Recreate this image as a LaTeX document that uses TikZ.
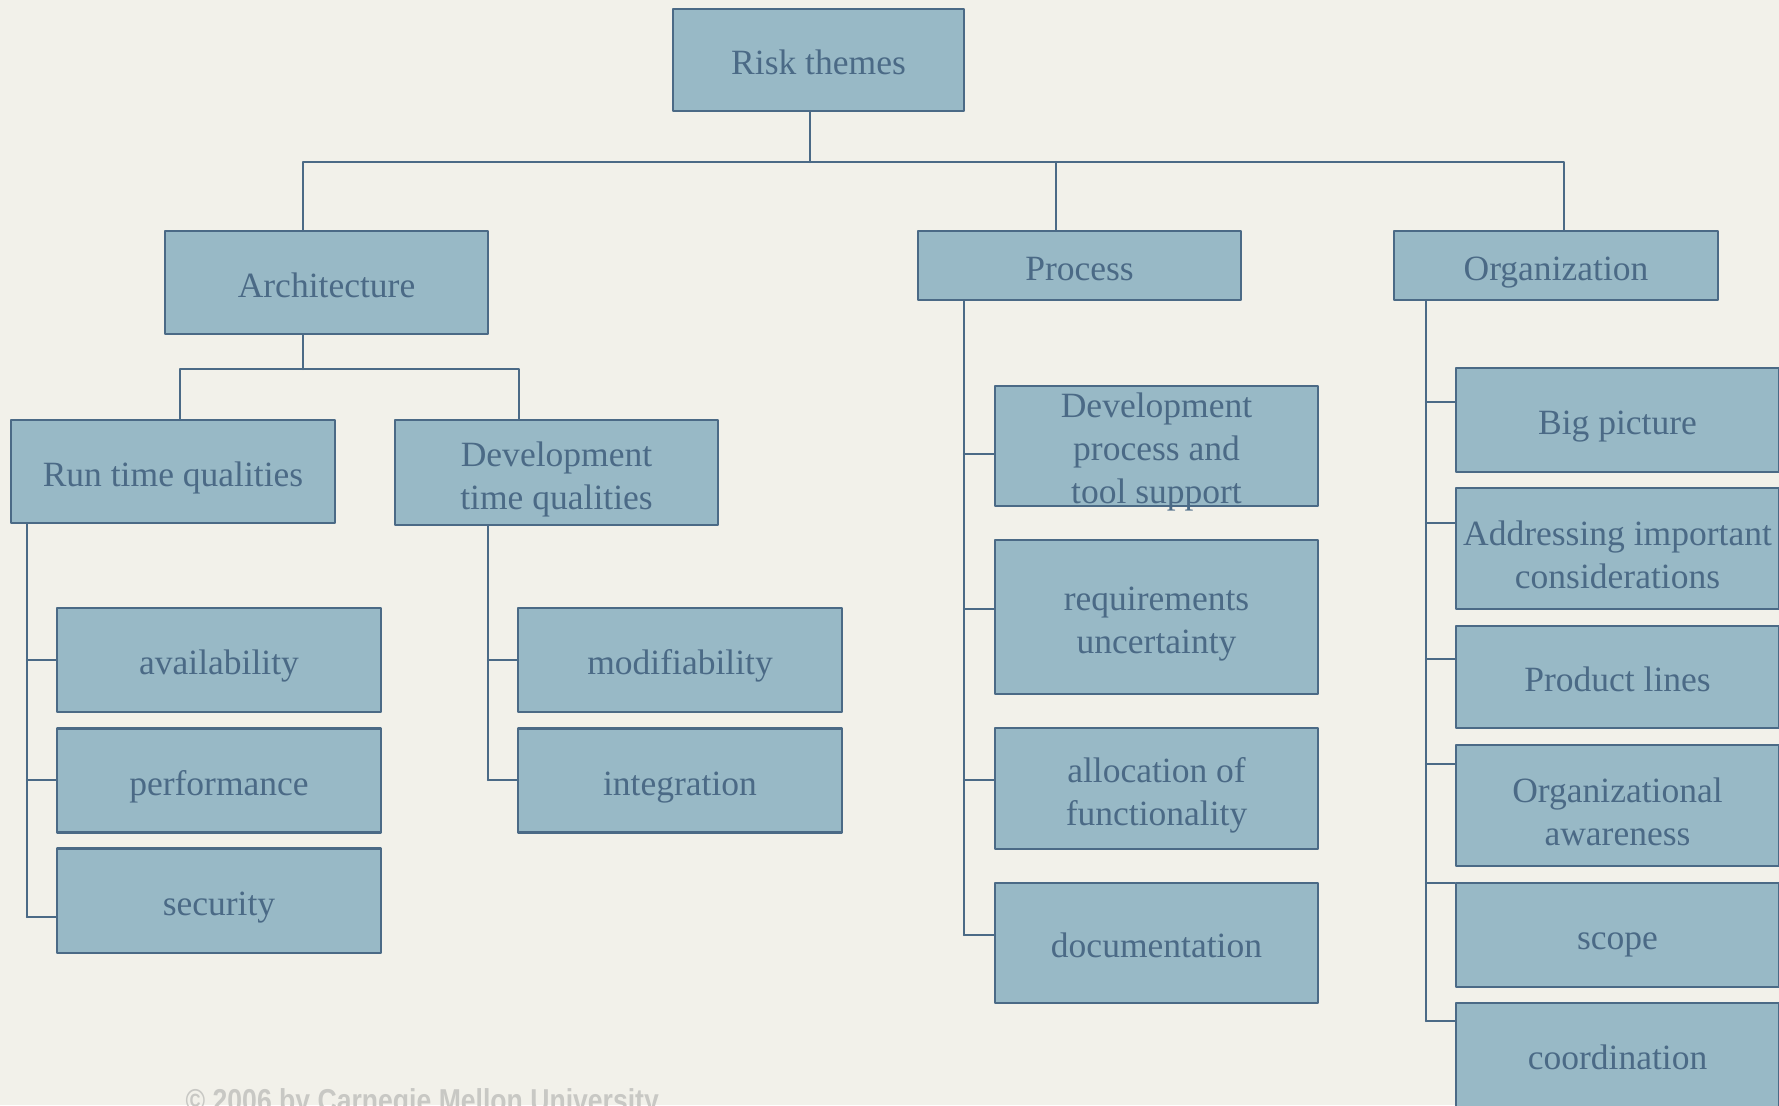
\documentclass[tikz,border=0pt]{standalone}
\usepackage{fontspec}
\setmainfont{Liberation Serif}
\newfontfamily\notefont{Liberation Sans}
\definecolor{bgcream}{HTML}{F2F1EA}
\definecolor{boxfill}{HTML}{98B9C6}
\definecolor{boxline}{HTML}{4B6A86}
\definecolor{notegray}{HTML}{C8C8C4}
\newcommand{\boxstrut}{\rule[-2.2pt]{0pt}{12.9pt}}

\begin{document}
\begin{tikzpicture}[line cap=round, line join=round, x=0.01cm, y=-0.01cm,
    boxtext/.style={text=boxline, inner sep=0pt, align=center, font=\fontsize{10.1}{12.2}\selectfont},
    theme/.style={boxtext, draw=boxline, fill=boxfill, line width=0.6pt,
      minimum width=3.23cm, minimum height=1.04cm,
      execute at begin node=\boxstrut, execute at end node=\boxstrut},
    link/.style={draw=boxline, line width=0.6pt}]
                \useasboundingbox (0,0) rectangle (1779,1105);
                \clip (0,0) rectangle (1779,1105);
                \fill[bgcream] (0,0) rectangle (1779,1105);
                % top levels
                \node[theme, minimum width=2.91cm, minimum height=1.02cm] (risk) at (818.5,60) {Risk themes};
                \node[theme, minimum height=1.03cm] (arch) at (326.5,282.5) {Architecture};
                \node[theme, minimum height=0.69cm] (proc) at (1079.5,265.5) {Process};
                \node[theme, minimum height=0.69cm] (org) at (1556,265.5) {Organization};
                \node[theme, minimum height=1.03cm] (runtime) at (173,471.5) {Run time qualities};
                \node[theme, minimum height=1.05cm] (devtime) at (556.5,472.5) {};
                % leaves
                \node[theme] (avail) at (219,660) {availability};
                \node[theme] (perf) at (219,780.5) {performance};
                \node[theme] (sec) at (219,900.5) {security};
                \node[theme] (modif) at (680,660) {modifiability};
                \node[theme] (integ) at (680,780.5) {integration};
                \node[theme, minimum height=1.20cm] (devproc) at (1156.5,446) {};
                \node[theme, minimum height=1.54cm] (requnc) at (1156.5,617) {};
                \node[theme, minimum height=1.21cm] (alloc) at (1156.5,788.5) {};
                \node[theme, minimum height=1.20cm] (docu) at (1156.5,943) {documentation};
                \node[theme] (bigpic) at (1617.5,420) {Big picture};
                \node[theme, minimum height=1.21cm] (addr) at (1617.5,548.5) {};
                \node[theme, minimum height=1.02cm] (prodl) at (1617.5,677) {Product lines};
                \node[theme, minimum height=1.21cm] (orgaw) at (1617.5,805.5) {};
                \node[theme] (scope) at (1617.5,935) {scope};
                \node[theme] (coord) at (1617.5,1055) {coordination};
                % texts of the boxes with more than one line
                \node[boxtext] (devtimetext) at ([yshift=-1.9pt]devtime.center) {Development\\time qualities};
                \node[boxtext] (devproctext) at ([yshift=-1.6pt]devproc.center) {Development\\process and\\tool support};
                \node[boxtext] (requnctext) at ([yshift=-1.9pt]requnc.center) {requirements\\uncertainty};
                \node[boxtext] (alloctext) at ([yshift=-1.9pt]alloc.center) {allocation of\\functionality};
                \node[boxtext] (addrtext) at ([yshift=-1.9pt]addr.center) {Addressing important\\considerations};
                \node[boxtext] (orgawtext) at ([yshift=-1.9pt]orgaw.center) {Organizational\\awareness};
                % tree lines
                \coordinate (tee) at (810,162);
                \coordinate (busA) at (303,162);
                \coordinate (busP) at (1056,162);
                \coordinate (busO) at (1564,162);
                \draw[link] (risk.south -| tee) -- (tee);
                \draw[link] (arch.north -| busA) -- (busA) -- (busO) -- (org.north -| busO);
                \draw[link] (busP) -- (proc.north -| busP);
                \coordinate (subA) at (303,369);
                \coordinate (subL) at (180,369);
                \coordinate (subR) at (519,369);
                \draw[link] (arch.south -| subA) -- (subA);
                \draw[link] (runtime.north -| subL) -- (subL) -- (subR) -- (devtime.north -| subR);
                \coordinate (trunkR) at (27,917);
                \coordinate (trunkD) at (488,780);
                \coordinate (trunkP) at (964,935);
                \coordinate (trunkO) at (1426,1021);
                \draw[link] (runtime.south -| trunkR) -- (trunkR);
                \draw[link] (devtime.south -| trunkD) -- (trunkD);
                \draw[link] (proc.south -| trunkP) -- (trunkP);
                \draw[link] (org.south -| trunkO) -- (trunkO);
                \foreach \n/\y in {avail/660, perf/780, sec/917}
                    \draw[link] (trunkR |- 0,\y) -- (\n.west |- 0,\y);
                \foreach \n/\y in {modif/660, integ/780}
                    \draw[link] (trunkD |- 0,\y) -- (\n.west |- 0,\y);
                \foreach \n/\y in {devproc/454, requnc/609, alloc/780, docu/935}
                    \draw[link] (trunkP |- 0,\y) -- (\n.west |- 0,\y);
                \foreach \n/\y in {bigpic/402, addr/523, prodl/659, orgaw/764, scope/883, coord/1021}
                    \draw[link] (trunkO |- 0,\y) -- (\n.west |- 0,\y);
                % footer
                \node[anchor=base west, inner sep=0pt, text=notegray, font=\fontsize{9}{10}\notefont\bfseries] (cmu) at (185,1111)
                    {\scalebox{0.84}[1]{\textcopyright{} 2006 by Carnegie Mellon University}};
            \end{tikzpicture}
\end{document}
